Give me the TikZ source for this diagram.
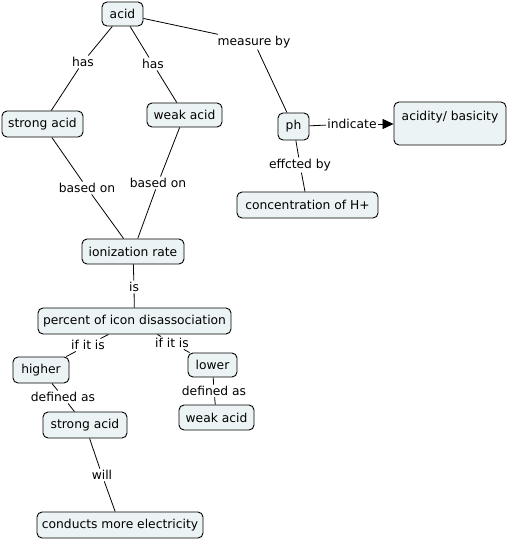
\documentclass[tikz,border=0pt]{standalone}
\usepackage{fontspec}
\setmainfont{DejaVu Sans}
\usetikzlibrary{arrows.meta}
\definecolor{boxfill}{RGB}{236,243,245}
\tikzset{
  concept/.style={draw=black, line width=0.9pt, fill=boxfill, rounded corners=5pt, inner sep=0pt, font=\fontsize{12.3}{14}\selectfont},
  lbl/.style={inner sep=1.5pt, font=\fontsize{12.3}{14}\selectfont},
  conn/.style={line width=0.8pt},
}
\begin{document}
\begin{tikzpicture}[x=1pt,y=-1pt]
\useasboundingbox (0,0) rectangle (508,540);
% concepts
\node[concept, minimum width=41pt, minimum height=24pt] (acid) at (122.5,14) {acid};
\node[concept, minimum width=81pt, minimum height=26pt] (sa1) at (42.5,124) {strong acid};
\node[concept, minimum width=75pt, minimum height=24pt] (wa1) at (184.5,115) {weak acid};
\node[concept, minimum width=31pt, minimum height=27pt] (ph) at (293.5,126.5) {ph};
\node[concept, minimum width=112pt, minimum height=43pt, text height=8pt, text depth=13pt] (acb) at (450,123.5) {acidity/ basicity};
\node[concept, minimum width=141pt, minimum height=26pt] (conc) at (307.5,205) {concentration of H+};
\node[concept, minimum width=102pt, minimum height=25pt] (ion) at (133,251.5) {ionization rate};
\node[concept, minimum width=193pt, minimum height=26pt] (pct) at (134.5,321) {percent of icon disassociation};
\node[concept, minimum width=56pt, minimum height=26pt] (hi) at (41,370) {higher};
\node[concept, minimum width=49pt, minimum height=24pt] (lo) at (212.5,365) {lower};
\node[concept, minimum width=75pt, minimum height=25pt] (wa2) at (216.5,417.5) {weak acid};
\node[concept, minimum width=84pt, minimum height=26pt] (sa2) at (85,425) {strong acid};
\node[concept, minimum width=166pt, minimum height=26pt] (cme) at (120,525) {conducts more electricity};
% labels
\node[lbl] (l1) at (83,62) {has};
\node[lbl] (l2) at (153,64) {has};
\node[lbl] (l3) at (254,42) {measure by};
\node[lbl] (l4) at (352,124) {indicate};
\node[lbl] (l5) at (300,165) {effcted by};
\node[lbl] (l6) at (87,188) {based on};
\node[lbl] (l7) at (158,183) {based on};
\node[lbl] (l8) at (134,287) {is};
\node[lbl] (l9) at (88,345) {if it is};
\node[lbl] (l10) at (172,343) {if it is};
\node[lbl] (l11) at (63,397) {defined as};
\node[lbl] (l12) at (214,391) {defined as};
\node[lbl] (l13) at (102,475) {will};
% connectors
\draw[conn] (acid) -- (l1) -- (sa1);
\draw[conn] (acid) -- (l2) -- (wa1);
\draw[conn] (acid) -- (l3) -- (ph);
\draw[conn] (ph) -- (l4);
\draw[conn, -{Triangle[length=11pt,width=10pt]}] (l4) -- (acb.west |- l4);
\draw[conn] (ph) -- (l5) -- (conc);
\draw[conn] (sa1) -- (l6) -- (ion);
\draw[conn] (wa1) -- (l7) -- (ion);
\draw[conn] (ion) -- (l8) -- (pct);
\draw[conn] (pct) -- (l9) -- (hi);
\draw[conn] (pct) -- (l10) -- (lo);
\draw[conn] (hi) -- (l11) -- (sa2);
\draw[conn] (lo) -- (l12) -- (wa2);
\draw[conn] (sa2) -- (l13) -- (cme);
\end{tikzpicture}
\end{document}
